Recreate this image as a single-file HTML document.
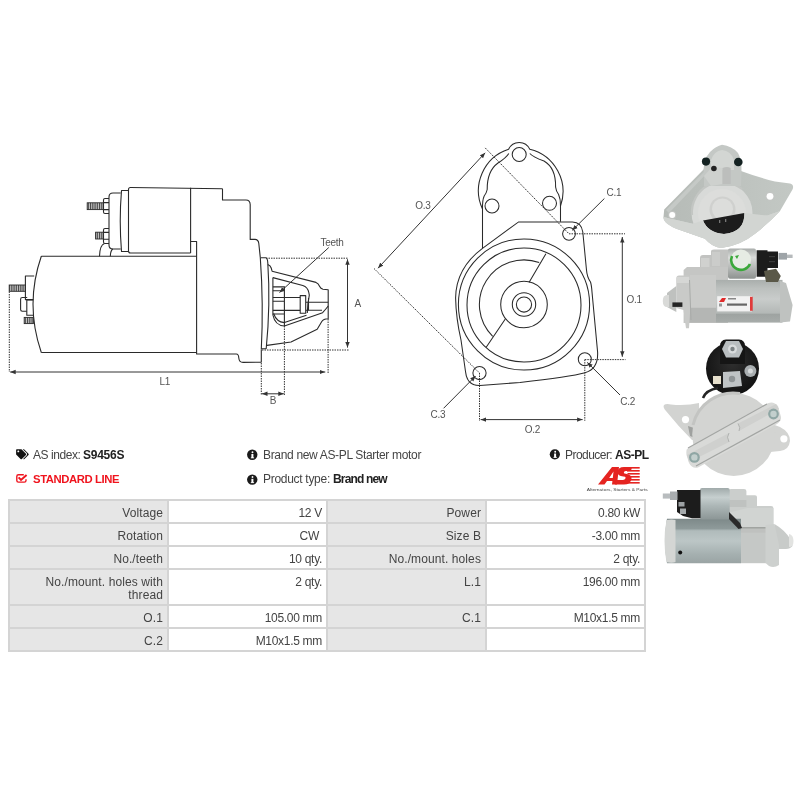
<!DOCTYPE html>
<html><head><meta charset="utf-8">
<style>
html,body{margin:0;padding:0;background:#fff;width:800px;height:800px;overflow:hidden;position:relative;font-family:"Liberation Sans",sans-serif;}
.aa{position:absolute;left:0;top:0;width:800px;height:800px;will-change:transform;}
.t{position:absolute;font-size:12px;color:#444;white-space:nowrap;letter-spacing:-0.33px;line-height:14px;}
.t b{color:#222;}
.red{color:#f0141e;font-weight:bold;letter-spacing:-0.2px;}
table{position:absolute;left:8px;top:499px;border-collapse:collapse;font-size:12px;color:#444;letter-spacing:0.1px;}
td.v{letter-spacing:-0.3px;}
td{border:2px solid #d4d4d4;padding:5.5px 4px 0 4px;box-sizing:border-box;text-align:right;vertical-align:top;line-height:13px;}
td.l{background:#e6e6e6;width:159px;}
td.v{background:#fff;width:159px;}
svg{position:absolute;left:0;top:0;}
</style></head><body><div class="aa">

<svg width="800" height="800" viewBox="0 0 800 800">
<defs>
<pattern id="thr" width="1.8" height="10" patternUnits="userSpaceOnUse"><rect width="1.8" height="10" fill="#d8d8d8"/><rect width="1" height="10" fill="#444"/></pattern>
<marker id="ah" viewBox="0 0 10 10" refX="10" refY="5" markerWidth="5.5" markerHeight="5.5" orient="auto-start-reverse" markerUnits="userSpaceOnUse"><path d="M0,1 L10,5 L0,9 z" fill="#333"/></marker>
</defs>
<!-- header icons -->
<g>
<path transform="translate(16.1,449.2) scale(0.0198)" fill="#111" d="M497.941 225.941L286.059 14.059A48 48 0 0 0 252.118 0H48C21.49 0 0 21.49 0 48v204.118a48 48 0 0 0 14.059 33.941l211.882 211.882c18.744 18.745 49.136 18.746 67.882 0l204.118-204.118c18.745-18.745 18.745-49.137 0-67.882zM112 160c-26.51 0-48-21.49-48-48s21.49-48 48-48 48 21.49 48 48-21.490 48-48 48zm513.941 133.823L421.823 497.941c-18.745 18.745-49.137 18.745-67.882 0l-.36-.36L527.64 323.522c16.999-16.999 26.36-39.6 26.36-63.64s-9.362-46.641-26.36-63.64L331.397 0h48.721a48 48 0 0 1 33.941 14.059l211.882 211.882c18.745 18.745 18.745 49.137 0 67.882z"/>
<path d="M23.8,474.7 H18.5 Q16.8,474.7 16.8,476.4 V480.4 Q16.8,482.1 18.5,482.1 H24.3 Q26,482.1 26,480.4 V479.2" fill="none" stroke="#f0141e" stroke-width="1.4"/>
<path d="M18.6,477.4 L21,479.9 L26.6,474.9" fill="none" stroke="#f0141e" stroke-width="2"/>
<circle cx="252.25" cy="454.75" r="5.2" fill="#1a1a1a"/>
<circle cx="252.25" cy="479.6" r="5.2" fill="#1a1a1a"/>
<circle cx="554.85" cy="454.3" r="5.1" fill="#1a1a1a"/>
<g fill="#fff"><circle cx="252.5" cy="452.2" r="0.95"/><rect x="251.4" y="454" width="2" height="4"/><rect x="250.8" y="457.4" width="3.3" height="0.9"/>
<circle cx="252.5" cy="477" r="0.95"/><rect x="251.4" y="478.8" width="2" height="4"/><rect x="250.8" y="482.2" width="3.3" height="0.9"/>
<circle cx="555.2" cy="451.7" r="0.95"/><rect x="554.1" y="453.5" width="2" height="4"/><rect x="553.5" y="456.9" width="3.3" height="0.9"/></g>
<!-- AS logo -->
<g fill="#e52421">
<path d="M598,484.5 L612,467 L619,467 L617,484.5 L612,484.5 L612.4,481 L607,481 L604.5,484.5 Z M609.2,478 L612.8,478 L613.5,471.5 Z"/>
<path d="M632,467 L624,467 Q618,467 617.5,472 Q617.3,475.5 622,476.3 L625,476.8 Q626,477.2 625.4,478.6 Q624.8,480 623,480 L616,480 L614.8,484.5 L624,484.5 Q630.5,484.5 631.5,479 Q632,475 627,474 L624.5,473.5 Q623.5,473 624,471.9 Q624.5,471 626,471 L631,471 Z"/>
<rect x="627" y="467" width="12.7" height="1.6"/><rect x="627" y="470" width="12.7" height="1.6"/><rect x="627.5" y="473" width="12.2" height="1.6"/><rect x="628" y="476" width="11.7" height="1.6"/><rect x="627" y="479" width="12.7" height="1.6"/><rect x="625" y="482" width="14.7" height="1.6"/>
</g>
<text x="586.8" y="491.3" font-family="Liberation Sans" font-size="4.3" fill="#444" textLength="61" lengthAdjust="spacingAndGlyphs">Alternators, Starters &amp; Parts</text>
</g>
<!-- PHOTOS -->
<defs>
<linearGradient id="gV" x1="0" y1="0" x2="0" y2="1">
<stop offset="0" stop-color="#c9cbc9"/><stop offset="0.35" stop-color="#e4e5e3"/><stop offset="0.7" stop-color="#c2c5c3"/><stop offset="1" stop-color="#9fa3a1"/></linearGradient>
<linearGradient id="gSol" x1="0" y1="0" x2="0" y2="1">
<stop offset="0" stop-color="#a9adab"/><stop offset="0.3" stop-color="#d9dbd9"/><stop offset="0.6" stop-color="#b9bcba"/><stop offset="1" stop-color="#8e9290"/></linearGradient>
<linearGradient id="gMot" x1="0" y1="0" x2="0" y2="1">
<stop offset="0" stop-color="#9ea3a1"/><stop offset="0.25" stop-color="#b5b9b7"/><stop offset="0.45" stop-color="#c9ccca"/><stop offset="0.75" stop-color="#b4b8b6"/><stop offset="1" stop-color="#a2a6a4"/></linearGradient>
<linearGradient id="gHous" x1="0" y1="0" x2="0" y2="1">
<stop offset="0" stop-color="#d3d4d2"/><stop offset="0.5" stop-color="#dcdddb"/><stop offset="1" stop-color="#c3c5c3"/></linearGradient>
<radialGradient id="gDisc" cx="0.45" cy="0.4" r="0.6">
<stop offset="0" stop-color="#e6e7e5"/><stop offset="1" stop-color="#cfd0ce"/></radialGradient>
<radialGradient id="gBlk" cx="0.5" cy="0.4" r="0.6">
<stop offset="0" stop-color="#2e2e2e"/><stop offset="1" stop-color="#111"/></radialGradient>
</defs>

<!-- Photo 1: front view -->
<g>
<defs><linearGradient id="gPl" x1="0" y1="0" x2="1" y2="0"><stop offset="0" stop-color="#b6bbb7"/><stop offset="1" stop-color="#c3c8c4"/></linearGradient></defs>
<path d="M664.2,209.5 L706,167 L741,171 Q760,178 775,181.5 L790,183.6 Q794.5,185 792.5,189.5 L780,211 Q770,222 755,233.8 Q740,246 721,248 Q712,247 705,238.8 L680,230 Q664,224 663.5,217 Z" fill="url(#gPl)"/>
<path d="M666,210 L706,170 L709,171 L669,213 Z" fill="#c8ccc9" opacity="0.8"/>
<path d="M663.5,217 Q663,224 680,230 L705,238.8 Q712,247 721,248 Q740,246 755,233.8 Q770,222 780,211 L767.5,215.6 L692.5,223.8 Z" fill="#d3d6d3"/>
<circle cx="722" cy="213" r="30.5" fill="#d8dad8"/>
<path d="M692,215 A30.5,30.5 0 0 1 742,189" fill="none" stroke="#c3c6c3" stroke-width="2.2"/>
<circle cx="722" cy="213" r="24" fill="#dcdddb"/>
<circle cx="722.5" cy="209.5" r="13" fill="#cfd0ce"/>
<circle cx="722.5" cy="209" r="10.5" fill="#dcdddb"/>
<path d="M703,220.6 L744.4,213 Q745,232 724,234 Q708,233 703,220.6 Z" fill="#1c1c1c"/>
<rect x="719" y="220" width="1.3" height="3" fill="#777"/><rect x="725" y="219" width="1.3" height="3" fill="#777"/>
<path d="M663.5,217 Q663,224 680,230 L705,238.8 Q712,247 721,248 Q740,246 755,233.8 Q770,222 780,211 L767.5,215.6 L744.4,213 Q745,232 724,234 Q708,233 703,220.6 L692.5,223.8 Z" fill="#d2d5d2"/>
<path d="M704,176 Q702,160 710,152 Q716,146 722,144.8 Q732,146 738,153 Q742,160 741.5,172 L741,186 L704,186 Z" fill="#c4c8c5"/>
<path d="M711,160 Q714,151 722,150 Q731,151 734,160 L734,170 L711,170 Z" fill="#d3d6d3"/>
<path d="M704,176 L712,167 L722.5,168 L722.5,184 L711,186 Z" fill="#ced1ce"/>
<path d="M722.5,168 Q727,166 730.7,168 L730.7,184 L722.5,184 Z" fill="#bcbebc"/>
<circle cx="706" cy="161.6" r="4.1" fill="#142222"/>
<circle cx="738.3" cy="162" r="4.3" fill="#142222"/>
<circle cx="713.9" cy="168.5" r="2.8" fill="#222"/>
<circle cx="672.2" cy="215" r="4" fill="#c3c5c3"/>
<circle cx="672.2" cy="215" r="3" fill="#fff"/>
<circle cx="770" cy="196.3" r="4.4" fill="#c3c5c3"/>
<circle cx="770" cy="196.3" r="3.4" fill="#fff"/>
</g>

<!-- Photo 2: side view pinion left -->
<defs>
<linearGradient id="gMot2" x1="0" y1="0" x2="0" y2="1">
<stop offset="0" stop-color="#a9aeac"/><stop offset="0.2" stop-color="#bcc0be"/><stop offset="0.45" stop-color="#c9cccb"/><stop offset="0.78" stop-color="#b3b8b6"/><stop offset="0.8" stop-color="#9ea3a1"/><stop offset="1" stop-color="#a7acaa"/></linearGradient>
<linearGradient id="gMot4" x1="0" y1="0" x2="0" y2="1">
<stop offset="0" stop-color="#7d8989"/><stop offset="0.22" stop-color="#8e9a9a"/><stop offset="0.27" stop-color="#b0bbbb"/><stop offset="0.5" stop-color="#bcc6c6"/><stop offset="0.8" stop-color="#a5b0b0"/><stop offset="1" stop-color="#9aa4a4"/></linearGradient>
<linearGradient id="gSol4" x1="0" y1="0" x2="0" y2="1">
<stop offset="0" stop-color="#a0aaaa"/><stop offset="0.3" stop-color="#c6cfcf"/><stop offset="0.55" stop-color="#aeb8b8"/><stop offset="1" stop-color="#8c9696"/></linearGradient>
<linearGradient id="gH2" x1="0" y1="0" x2="0" y2="1">
<stop offset="0" stop-color="#c3c4c2"/><stop offset="0.5" stop-color="#cdcecc"/><stop offset="1" stop-color="#b9bbb9"/></linearGradient>
</defs>
<g>
<path d="M700,272 V258 Q700,255 703,255 H711 V251.5 Q711,249.5 714,249.5 H729 V272 Z" fill="#c2c3c1"/>
<path d="M701,258 H709.5 V270 H701 Z" fill="#d0d1cf"/>
<path d="M712,252 H720 V266 H712 Z" fill="#cbcccA"/>
<path d="M683.6,270 L687,267 H728 V323 H683.6 Z" fill="#c5c6c4"/>
<path d="M690,275 H716 V307 H690 Z" fill="#cacbc9"/>
<path d="M687,308 H716 V322.6 H687 Z" fill="#b4b6b4"/>
<path d="M676.3,278 Q676.5,275.4 679,275.4 H688 Q690.4,276 690.4,279 V308 L689,328.2 L686,328.2 L683.5,310 L676.3,308 Z" fill="#c9cac8"/>
<path d="M677,277 H689 V283 H677 Z" fill="#d6d7d5"/>
<path d="M689.5,280 L691,320" stroke="#a9aba9" stroke-width="1" fill="none"/>
<path d="M667,293 L676.3,286 V312 L667,307 Z" fill="#bfc1bf"/>
<path d="M667,295 Q662.8,295 662.8,301 Q662.8,307 667,307 L669,307 V295 Z" fill="#d9dad8"/>
<rect x="672.4" y="302.4" width="10" height="4.5" fill="#252525"/>
<rect x="716" y="279.9" width="66.5" height="42.7" fill="url(#gMot2)"/>
<path d="M780,281 L786,283 L792.6,305 L790,321.5 L780,322.6 Z" fill="#bfc2c0"/>
<rect x="728" y="248.4" width="28" height="30.3" rx="2" fill="url(#gSol)"/>
<circle cx="740.9" cy="259.6" r="10.2" fill="#e6ece4"/>
<path d="M732,256 A9.2,9.2 0 0 0 750,264" fill="none" stroke="#3aa83a" stroke-width="2.6"/>
<path d="M735,256 L739,255 L737,259 Z" fill="#3aa83a"/>
<path d="M756.6,250.2 H767.5 V251.5 H778 V268 H767.5 V276.8 H756.6 Z" fill="#1c1c1c"/>
<rect x="769" y="256" width="6" height="1.2" fill="#3a3a3a"/><rect x="769" y="261" width="6" height="1.2" fill="#3a3a3a"/>
<rect x="778.5" y="252.9" width="8.5" height="6.7" fill="#9ea4a8"/>
<rect x="787" y="254.6" width="5.6" height="3.4" fill="#b6babc"/>
<path d="M764,271 L776,268.7 L780.8,276 L778,282 L766,282 Z" fill="#5a5848"/>
<rect x="717.2" y="296.2" width="34.8" height="15.2" fill="#f2f2f2"/>
<rect x="750" y="296.8" width="2.7" height="14" fill="#e03a3a"/>
<path d="M719,302 L722,298 L726,298 L724,302 Z" fill="#e02a2a"/>
<rect x="728" y="298" width="8" height="1.5" fill="#888"/>
<rect x="727" y="303.5" width="20" height="2.2" fill="#666"/>
<rect x="719" y="303.5" width="3" height="3" fill="#999"/>
</g>

<!-- Photo 3: rear view -->
<g>
<path d="M664,405 Q666,403.5 671,404.5 Q686,406 699,403 L700,440 L692,440 Q678,426 666,411 Q662.5,407 664,405 Z" fill="#d2d3d1"/>
<path d="M688,426 L700,430 L700,440 L690,436 Z" fill="#9fa19f"/>
<path d="M772,424 L780,427 Q790,432 790,441 Q789,450 780,451 L770,452 Z" fill="#d3d4d2"/>
<circle cx="732.5" cy="368.5" r="26.5" fill="url(#gBlk)"/>
<path d="M720,346 Q720,340 726,339.5 H739 Q745,340 745,346 V364 H720 Z" fill="#151515"/>
<path d="M726,341 L739,341 L743,349 L739,357.5 L726,357.5 L722,349 Z" fill="#b9bec0"/>
<circle cx="732.5" cy="349" r="4.5" fill="#d9dcdd"/>
<circle cx="732.5" cy="349" r="2.2" fill="#7d8385"/>
<circle cx="750.4" cy="370.9" r="6" fill="#a9aeb0"/>
<circle cx="750.4" cy="370.9" r="2.5" fill="#d6d9da"/>
<path d="M723,372 L740,371 L742,386 L723,388 Z" fill="#bfc3c5"/>
<circle cx="732" cy="379" r="3.2" fill="#8f9496"/>
<rect x="713" y="376" width="8" height="8" fill="#e6dfcc"/>
<path d="M703,398 Q706,390 718,388" fill="none" stroke="#252525" stroke-width="2.5"/>
<circle cx="733.7" cy="434.5" r="41.5" fill="#d3d4d2"/>
<path d="M693,425 A41.5,41.5 0 0 1 740,393.5" fill="none" stroke="#c3c4c2" stroke-width="3"/>
<path d="M686.9,449 L766,404 Q773,400 778,406 L781,417 Q781.5,421 777,424 L698,467.5 Q692,469 689,463 L686.5,455 Q686,451 686.9,449 Z" fill="#d9dad8"/>
<path d="M688,448 L767,404" fill="none" stroke="#a3a5a3" stroke-width="1.2"/>
<path d="M696,466 L780,420" fill="none" stroke="#a3a5a3" stroke-width="1.2"/>
<path d="M738,423.5 Q741,428 739,431 L779,409 L776,404 Z" fill="#cfd0ce"/>
<path d="M738,423.5 Q741,428 739,431" fill="none" stroke="#b0b2b0" stroke-width="1"/>
<path d="M729,433 Q726,437 729,442 L689,462 L687,455 Z" fill="#cfd0ce"/>
<path d="M729,433 Q726,437 729,442" fill="none" stroke="#b0b2b0" stroke-width="1"/>
<circle cx="773.5" cy="414" r="5.4" fill="#8fa6a4"/>
<circle cx="773.5" cy="414" r="3.2" fill="#c3cfcd"/>
<circle cx="694.4" cy="457.4" r="5.4" fill="#8fa6a4"/>
<circle cx="694.4" cy="457.4" r="3.2" fill="#c3cfcd"/>
<circle cx="685.5" cy="419.6" r="3.6" fill="#fff"/>
<circle cx="783.9" cy="438.8" r="3.6" fill="#fff"/>
</g>

<!-- Photo 4: side view solenoid left -->
<g>
<path d="M728.4,491 Q728.4,489 731,489 H744 Q746.4,489 746.4,491 V495.2 H755 Q757,495.2 757,497 V505.9 H771 Q773.4,505.9 773.4,508 V533 H728.4 Z" fill="#cbcecc"/>
<rect x="728.4" y="500" width="18" height="7" fill="#bfc2c0"/>
<path d="M729.5,512.6 L747.5,508 H773.4 V527.2 H739.6 Z" fill="#d1d4d2"/>
<rect x="728.4" y="527.2" width="45" height="5.7" fill="#bfc1bf"/>
<rect x="728.4" y="527.2" width="45" height="1.2" fill="#9a9c9a"/>
<path d="M740.7,532.9 H766 V563.2 H740.7 Z" fill="#c5c8c6"/>
<path d="M774.5,524 Q785,530 791,540 L792.5,546 Q790,549 786,549 L774.5,549 Z" fill="#c8cbc9"/>
<path d="M789,534 Q793.5,535 793.5,541 Q793.5,547 789,547 Z" fill="#e2e3e1"/>
<path d="M765.5,525 L774.5,524 L779,545 V565 Q774,568.5 769,566 L765.5,563 Z" fill="#cdd0ce"/>
<path d="M667,518.8 H741 V563.2 H667 Q663,541 667,518.8 Z" fill="url(#gMot4)"/>
<path d="M666.5,520 Q672,518.8 675.5,520 V562 Q672,563.5 666.5,562 Q662.5,541 666.5,520 Z" fill="#d4d6d4"/>
<circle cx="680.2" cy="552.6" r="2" fill="#111"/>
<rect x="700" y="487.9" width="29.7" height="31.5" rx="2" fill="url(#gSol4)"/>
<path d="M677,490 H700.5 V518.2 H692 L683,516 L677,512 Z" fill="#1c1c1c"/>
<rect x="670" y="491.5" width="7.5" height="8.5" fill="#a9adaf"/>
<rect x="662.8" y="493.5" width="7.2" height="5.1" fill="#b8bcbe"/>
<rect x="678.5" y="502" width="6" height="4.5" fill="#9da2a4"/>
<rect x="680" y="508.5" width="6" height="5.5" fill="#a5aaac"/>
<path d="M729,512 L740,523 L742,528 L738.5,529 L729,519 Z" fill="#2a2a2a"/>
</g>

<!-- CENTER DRAWING -->
<g fill="none" stroke="#2a2a2a" stroke-width="1.05">
<circle cx="519.2" cy="154.5" r="7"/>
<circle cx="492" cy="206" r="7"/>
<circle cx="549.5" cy="203.3" r="7"/>
<circle cx="569" cy="233.8" r="6.4"/>
<circle cx="584.8" cy="359.2" r="6.5"/>
<circle cx="479.5" cy="373" r="6.6"/>
<!-- mount outline -->
<path d="M482.5,209 A43.5,43.5 0 0 1 508.6,149.3 A11.6,11.6 0 0 1 529.8,149.3 A43.5,43.5 0 0 1 560.5,206"/>
<path d="M482.5,209 Q482.3,200 484.2,196 Q486.5,193 487.2,189.5 Q487,171 498,163 Q506,158 508.8,153.5"/>
<path d="M560.5,206 Q560.7,199 558.6,194.5 Q556,191 555.6,187 Q556,168 544,161 Q533,157 529.8,153.5"/>
<path d="M482.5,209 V248.3 M560.5,206 V221.8"/>
<!-- flange -->
<path d="M482.5,248.3 L518.6,221.9 H572.4 Q581.5,222 582.8,232 L586.5,270 Q587,277 590.5,282 Q591.5,285 592,292 L597.6,352 Q598.5,369 585,372.8 Q570,377 520,382.5 L480,385.5 Q467,386 465.5,371.5 L461,340 Q456,318 455.6,298 Q456,268 482.5,248.3"/>
<!-- face -->
<circle cx="524" cy="304.5" r="65.6"/>
<circle cx="524" cy="305" r="57"/>
<circle cx="524" cy="304.5" r="23.3"/>
<circle cx="524" cy="304.5" r="11.7"/>
<circle cx="524" cy="304.5" r="7.6"/>
<path d="M539.2,262.6 A44.6,44.6 0 0 0 492.7,336.3"/>
<path d="M545.9,253.8 L529,282.4 M505.3,319 L486.2,347.3"/>
</g>
<g fill="none" stroke="#333" stroke-width="1" stroke-dasharray="1.5 1.0">
<path d="M485.2,147.9 L569,233.8 M374,268.5 L479.5,373 M569,233.8 H625 M584.8,359.6 H625.5 M584.8,359.6 V420.8 M479.5,373 V421"/>
</g>
<g fill="none" stroke="#333" stroke-width="1">
<path d="M378,268.2 L485.2,152.8" marker-start="url(#ah)" marker-end="url(#ah)"/>
<path d="M622.3,237 V356.8" marker-start="url(#ah)" marker-end="url(#ah)"/>
<path d="M480.6,419.6 H582.6" marker-start="url(#ah)" marker-end="url(#ah)"/>
<path d="M604.4,198.5 L572.3,230.3" marker-end="url(#ah)"/>
<path d="M620,395 L587.3,362.4" marker-end="url(#ah)"/>
<path d="M443.6,408.3 L475.6,376" marker-end="url(#ah)"/>
</g>
<g font-family="Liberation Sans" font-size="10" fill="#555" letter-spacing="-0.3">
<text x="415.3" y="209.3">O.3</text>
<text x="606.5" y="196">C.1</text>
<text x="626.5" y="302.8">O.1</text>
<text x="620.3" y="405">C.2</text>
<text x="430.6" y="418.3">C.3</text>
<text x="524.8" y="432.8">O.2</text>
</g>
<!-- LEFT DRAWING -->
<g fill="none" stroke="#2a2a2a" stroke-width="1.1" stroke-linejoin="round">
<!-- motor body -->
<path d="M41.3,256.3 H196.5 M41.3,352.5 H196.5 M41.3,256.3 Q24.7,304.4 41.3,352.5"/>
<!-- solenoid can -->
<path d="M190.6,253 H130.5 Q128.5,253 128.5,251 V189.5 Q128.5,187.5 130.5,187.5 L222.5,188.7"/>
<path d="M190.6,187.8 V253"/>
<!-- ring -->
<path d="M128.5,190.5 H121.5 Q119,220.5 121.5,251.5 H128.5"/>
<!-- cap -->
<path d="M120.7,193 H113 Q109,193 109,197 V245 Q109,249 113,249 H120.7"/>
<!-- nuts -->
<path d="M109,198.5 H105 Q103.5,198.5 103.5,200 V212 Q103.5,213.5 105,213.5 H109 M103.5,202.6 H109 M103.5,209.6 H109"/>
<path d="M109,228.5 H105 Q103.5,228.5 103.5,230 V242 Q103.5,243.5 105,243.5 H109 M103.5,232.4 H109 M103.5,239.2 H109"/>
<!-- arcs below cap -->
<path d="M99.5,256.3 Q99.8,245 104.5,243.5 M110.3,256.3 Q110.5,250.5 112.8,249"/>
<!-- housing -->
<path d="M222.5,188.7 V200 H246 Q250,200 250.2,204.5 V239.4 H255 Q258.3,239.4 258.8,243.5 L260.3,257.6"/>
<path d="M190.6,241.5 H196.6 V354 H236.3 Q238.6,354 238.8,358 Q239.2,362.4 243,362.4 L261.3,362.1 V349.4"/>
<path d="M260.3,257.6 Q263.6,304 261.3,349.4"/>
<path d="M260.3,257.7 H265.8 Q267.6,258.2 267.8,263 Q270.6,305 266.2,348.8 H261.3"/>
<!-- nose outer -->
<path d="M267.8,264.5 Q270.5,265.5 271.2,268 L272.1,271.2 L316,282.4 Q318.3,283.3 319.7,286.5 Q320.6,288.6 323,289.2 L328.2,289.8 V318.7 Q323.5,318.6 321.8,321.5 L317.2,329.3 L291,342 L267,345.4"/>
<!-- nose inner bracket -->
<path d="M272.9,277.6 L302.8,285.5 Q307.7,287 308.8,292.5 L309.3,295.2 Q307.5,304 307.3,313"/>
<path d="M272.9,277.6 V315 Q275,325.5 284.4,326 L322.6,312.7 Q326,309 328.2,306"/>
<path d="M273.6,313.5 Q276.5,322 284.4,322.6 L306.5,315.3"/>
<!-- pinion teeth -->
<path d="M272.9,286.9 H284.4 M272.9,290.7 H284.4 M272.9,297.5 H300.2 M272.9,301.3 H284.4 M272.9,310.4 H300.2 M272.9,314 H284.4 M284.4,286.3 V326"/>
<path d="M300.2,295.6 H305.7 V313.2 H300.2 Z M305.7,302.2 H328.2 M305.7,310.3 H322"/>
<path d="M308.5,298 V310.3"/>
<!-- left end -->
<path d="M34.2,276 H25.4 V299.6 H33.4"/>
<path d="M27.2,297.5 H22.3 Q20.6,297.5 20.6,299.2 V309.5 Q20.6,311.2 22.3,311.2 H26.8"/>
<path d="M26.8,300 H33 M26.8,300 V315.3 H33.2"/>
</g>
<!-- threaded studs -->
<g stroke="#2a2a2a" stroke-width="0.9" fill="url(#thr)">
<rect x="87.2" y="202.8" width="16.3" height="6.8"/>
<rect x="95.6" y="232.2" width="7.9" height="6.8"/>
<rect x="9.2" y="285" width="16.2" height="6.3"/>
<rect x="24.2" y="317.4" width="9.2" height="6.2"/>
</g>
<!-- dimension lines left -->
<g fill="none" stroke="#333" stroke-width="1" stroke-dasharray="1.5 1.0">
<path d="M9.3,291.5 V372 M328.1,319 V374 M266,258.2 H348.5 M262,350 H349.5 M261.3,363 V395 M284.4,326 V395"/>
</g>
<g fill="none" stroke="#333" stroke-width="1">
<path d="M10.2,372 H325.3" marker-start="url(#ah)" marker-end="url(#ah)"/>
<path d="M347.5,259.3 V347.6" marker-start="url(#ah)" marker-end="url(#ah)"/>
<path d="M262,393.8 H283.8" marker-start="url(#ah)" marker-end="url(#ah)"/>
<path d="M328.8,247.5 L279.5,292.5" marker-end="url(#ah)"/>
</g>
<g font-family="Liberation Sans" font-size="10" fill="#555" letter-spacing="-0.3">
<text x="159.5" y="384.5">L1</text>
<text x="269.8" y="404">B</text>
<text x="354.5" y="306.6">A</text>
<text x="320.5" y="246">Teeth</text>
</g>
</svg>

<div class="t" style="left:33px;top:448px;letter-spacing:-0.45px">AS index:</div>
<div class="t" style="left:83px;top:448px;letter-spacing:-0.25px"><b>S9456S</b></div>
<div class="t red" style="left:33px;top:472px;font-size:11.3px;letter-spacing:-0.4px">STANDARD LINE</div>
<div class="t" style="left:263px;top:448px;">Brand new AS-PL Starter motor</div>
<div class="t" style="left:263px;top:472px;letter-spacing:-0.29px">Product type:</div>
<div class="t" style="left:333px;top:472px;letter-spacing:-0.85px"><b>Brand new</b></div>
<div class="t" style="left:565px;top:448px;letter-spacing:-0.54px">Producer:</div>
<div class="t" style="left:615px;top:448px;letter-spacing:-0.5px"><b>AS-PL</b></div>

<table>
<tr style="height:23px"><td class="l">Voltage</td><td class="v">12 V</td><td class="l">Power</td><td class="v">0.80 kW</td></tr>
<tr style="height:23px"><td class="l">Rotation</td><td class="v">CW&nbsp;</td><td class="l">Size B</td><td class="v">-3.00 mm</td></tr>
<tr style="height:23px"><td class="l">No./teeth</td><td class="v">10 qty.</td><td class="l">No./mount. holes</td><td class="v">2 qty.</td></tr>
<tr style="height:36px"><td class="l">No./mount. holes with<br>thread</td><td class="v">2 qty.</td><td class="l">L.1</td><td class="v">196.00 mm</td></tr>
<tr style="height:23px"><td class="l">O.1</td><td class="v">105.00 mm</td><td class="l">C.1</td><td class="v">M10x1.5 mm</td></tr>
<tr style="height:23px"><td class="l">C.2</td><td class="v">M10x1.5 mm</td><td class="l"></td><td class="v"></td></tr>
</table>

</div></body></html>
